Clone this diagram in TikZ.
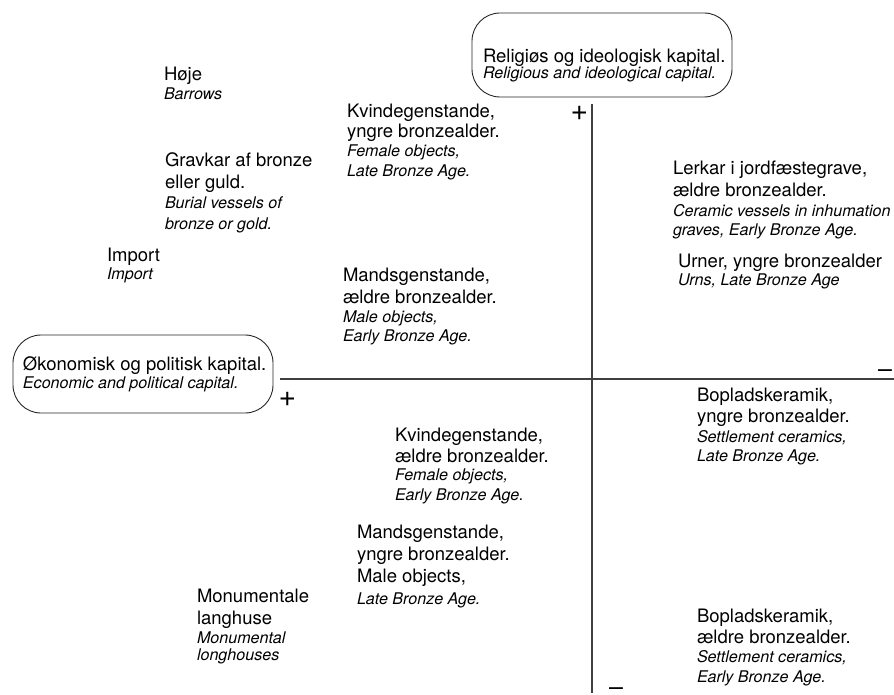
\documentclass[tikz,border=0pt]{standalone}
\usepackage{fontspec}
\setmainfont{TeX Gyre Heros}
\newcommand\RL[2][22]{\baselineskip=#1pt\hbox{\fontsize{18.5}{22}\selectfont #2}}
\newcommand\IL[2][19.5]{\baselineskip=#1pt\hbox{\fontsize{16.1}{19}\selectfont\itshape #2}}
\tikzset{
  item/.style={anchor=base west, inner sep=0pt, outer sep=0pt},
  capbox/.style={draw=black!85, line width=0.9pt, rounded corners=28pt, inner sep=0pt},
  axis/.style={draw=black!75, line width=1.5pt},
  sign/.style={anchor=base, inner sep=0pt, font=\fontsize{25}{25}\selectfont},
  plussign/.style={anchor=base, inner sep=0pt, font=\fontsize{30}{30}\selectfont}
}
\begin{document}
\begin{tikzpicture}[x=1pt,y=-1pt]
\useasboundingbox (0,0) rectangle (894,695);
% capital boxes
\node[capbox, minimum width=260pt, minimum height=84pt] (rel) at (602,55) {};
\node[item] (reltext) at (483,63) {\vtop{\RL{Religiøs og ideologisk kapital.}\IL[16]{Religious and ideological capital.}}};
\node[capbox, minimum width=260pt, minimum height=78pt] (eco) at (143,374) {};
\node[item] (ecotext) at (23,370) {\vtop{\RL{Økonomisk og politisk kapital.}\IL[18]{Economic and political capital.}}};
% axes
\coordinate (vt) at (592,104);
\coordinate (vb) at (592,693);
\coordinate (hl) at (280,379);
\coordinate (hr) at (894,379);
\draw[axis] (vt) -- (vb);
\draw[axis] (hl) -- (hr);
% signs
\node[plussign] (ptop) at (579.5,121) {+};
\node[plussign] (pleft) at (287.5,406) {+};
\node[sign] (mright) at (885,377) {–};
\node[sign] (mbot) at (616,695) {–};
% items
\node[item] (hoje) at (164,81) {\vtop{\RL{Høje}\IL[19]{Barrows}}};
\node[item] (gravkar) at (165,167) {\vtop{\RL{Gravkar af bronze}\RL{eller guld.}\IL[20]{Burial vessels of}\IL[21]{bronze or gold.}}};
\node[item] (import) at (107,261) {\vtop{\RL{Import}\IL[18]{Import}}};
\node[item] (kvy) at (347,118) {\vtop{\RL[20]{Kvindegenstande,}\RL[20]{yngre bronzealder.}\IL[19]{Female objects,}\IL[20]{Late Bronze Age.}}};
\node[item] (mae) at (343,281) {\vtop{\RL{Mandsgenstande,}\RL{ældre bronzealder.}\IL[19]{Male objects,}\IL[19]{Early Bronze Age.}}};
\node[item] (lerkar) at (673,175) {\vtop{\RL{Lerkar i jordfæstegrave,}\RL{ældre bronzealder.}\IL[20]{Ceramic vessels in inhumation}\IL[19]{graves, Early Bronze Age.}}};
\node[item] (urner) at (678,267) {\vtop{\RL{Urner, yngre bronzealder}\IL[18]{Urns, Late Bronze Age}}};
\node[item] (kvae) at (395,441) {\vtop{\RL[21]{Kvindegenstande,}\RL[21]{ældre bronzealder.}\IL[18]{Female objects,}\IL[20]{Early Bronze Age.}}};
\node[item] (may) at (357,538) {\vtop{\RL{Mandsgenstande,}\RL{yngre bronzealder.}\RL{Male objects,}\IL[22]{Late Bronze Age.}}};
\node[item] (monu) at (197,602) {\vtop{\RL{Monumentale}\RL{langhuse}\IL[19]{Monumental}\IL[17]{longhouses}}};
\node[item] (bopy) at (697,401) {\vtop{\RL[21]{Bopladskeramik,}\RL[21]{yngre bronzealder.}\IL[20]{Settlement ceramics,}\IL[19]{Late Bronze Age.}}};
\node[item] (bopa) at (697,622) {\vtop{\RL[21]{Bopladskeramik,}\RL[21]{ældre bronzealder.}\IL[19]{Settlement ceramics,}\IL[20]{Early Bronze Age.}}};
\end{tikzpicture}
\end{document}
